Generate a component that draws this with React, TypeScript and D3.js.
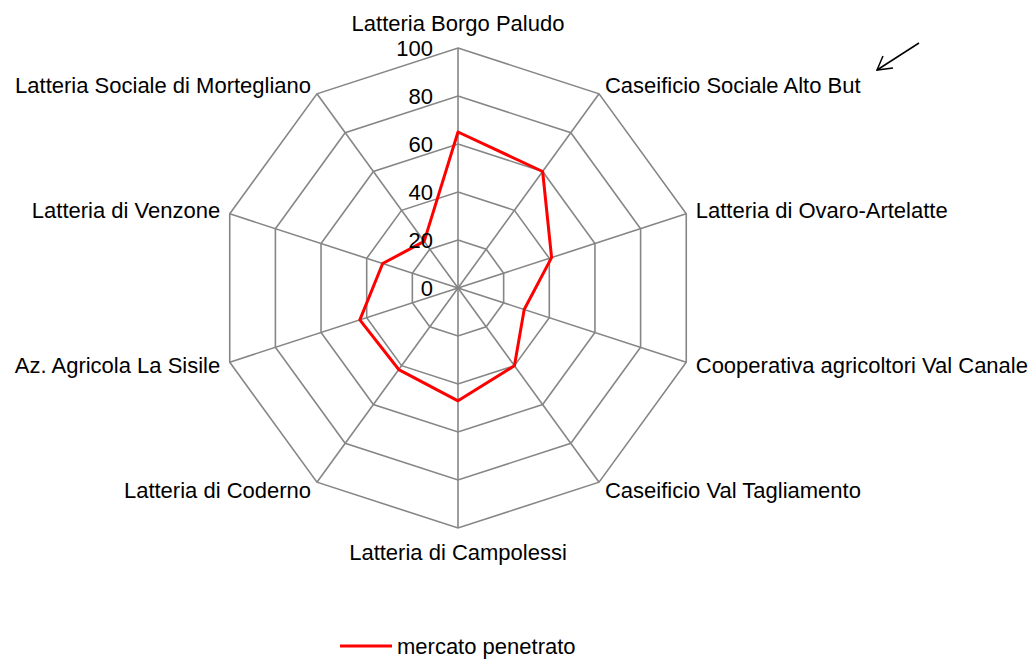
import React from 'react';
import * as d3 from 'd3';

const categories = [
  'Latteria Borgo Paludo',
  'Caseificio Sociale Alto But',
  'Latteria di Ovaro-Artelatte',
  'Cooperativa agricoltori Val Canale',
  'Caseificio Val Tagliamento',
  'Latteria di Campolessi',
  'Latteria di Coderno',
  'Az. Agricola La Sisile',
  'Latteria di Venzone',
  'Latteria Sociale di Mortegliano',
];
const mercatoPenetrato = [65, 60, 41, 29, 40, 47, 42, 43, 33, 24];
const ticks = [0, 20, 40, 60, 80, 100];
const seriesName = 'mercato penetrato';

const width = 1034;
const height = 662;
const cx = 458;
const cy = 288;
const radius = 240;
const font = '"Liberation Sans", Arial, sans-serif';
const fs = 22;

function App() {
  const n = categories.length;
  const angle = d3.scaleLinear().domain([0, n]).range([0, 2 * Math.PI]);
  const r = d3.scaleLinear().domain([0, 100]).range([0, radius]);

  const pt = (i: number, v: number): [number, number] => {
    const a = angle(i);
    return [cx + r(v) * Math.sin(a), cy - r(v) * Math.cos(a)];
  };

  const idx = d3.range(n);

  const radar = d3
    .lineRadial<number>()
    .angle((_, i) => angle(i))
    .radius((d) => r(d))
    .curve(d3.curveLinearClosed);

  return (
    <svg width={width} height={height} style={{ position: 'absolute', left: 0, top: 0 }} fontFamily={font}>
      <rect width={width} height={height} fill="#fff" />
      {/* grid rings */}
      {ticks.slice(1).map((t) => (
        <polygon
          key={t}
          points={idx.map((i) => pt(i, t).join(',')).join(' ')}
          fill="none"
          stroke="#868686"
          strokeWidth={1.6}
        />
      ))}
      {/* spokes */}
      {idx.map((i) => {
        const [x, y] = pt(i, 100);
        return <line key={i} x1={cx} y1={cy} x2={x} y2={y} stroke="#868686" strokeWidth={1.6} />;
      })}
      {/* series */}
      <path
        d={radar(mercatoPenetrato) ?? ''}
        transform={`translate(${cx},${cy})`}
        fill="none"
        stroke="#ff0000"
        strokeWidth={3}
        strokeLinejoin="round"
      />
      {/* tick labels */}
      {ticks.map((t) => (
        <text key={t} x={cx - 25} y={cy - r(t)} dy="0.35em" textAnchor="end" fontSize={fs} fill="#000">
          {t}
        </text>
      ))}
      {/* category labels */}
      {categories.map((c, i) => {
        const a = angle(i);
        const s = Math.sin(a);
        const co = Math.cos(a);
        const off = radius + 10;
        let x = cx + off * s;
        let y = cy - off * co;
        let anchor: 'start' | 'end' | 'middle' = 'middle';
        let dy = '0.35em';
        if (Math.abs(s) < 1e-6) {
          if (co > 0) {
            y = cy - radius - 17;
            dy = '0';
          } else {
            y = cy + radius + 15;
            dy = '0.75em';
          }
        } else {
          anchor = s > 0 ? 'start' : 'end';
        }
        return (
          <text key={c} x={x} y={y} dy={dy} textAnchor={anchor} fontSize={fs} fill="#000">
            {c}
          </text>
        );
      })}
      {/* arrow annotation */}
      <g stroke="#000" strokeWidth={1.5} fill="none">
        <line x1={919} y1={43} x2={877} y2={70} />
        <polyline points="883,56 877,70 893,68" />
      </g>
      {/* legend */}
      <line x1={340} y1={646} x2={392} y2={646} stroke="#ff0000" strokeWidth={3} />
      <text x={397} y={646} dy="0.35em" fontSize={fs} fill="#000">
        {seriesName}
      </text>
    </svg>
  );
}

export default App;
